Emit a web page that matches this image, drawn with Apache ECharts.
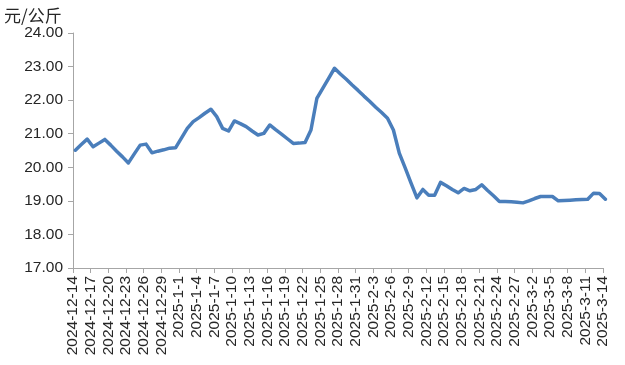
<!DOCTYPE html>
<html>
<head>
<meta charset="utf-8">
<script src="https://cdn.jsdelivr.net/npm/echarts@6/dist/echarts.min.js"></script>
<style>html,body{margin:0;padding:0;background:#fff}#c{width:625px;height:365px}</style>
</head>
<body>
<div id="c"></div>
<script>
const categories = [
'2024-12-14','2024-12-15','2024-12-16','2024-12-17','2024-12-18','2024-12-19','2024-12-20','2024-12-21','2024-12-22','2024-12-23',
'2024-12-24','2024-12-25','2024-12-26','2024-12-27','2024-12-28','2024-12-29','2024-12-30','2024-12-31','2025-1-1','2025-1-2',
'2025-1-3','2025-1-4','2025-1-5','2025-1-6','2025-1-7','2025-1-8','2025-1-9','2025-1-10','2025-1-11','2025-1-12',
'2025-1-13','2025-1-14','2025-1-15','2025-1-16','2025-1-17','2025-1-18','2025-1-19','2025-1-20','2025-1-21','2025-1-22',
'2025-1-23','2025-1-24','2025-1-25','2025-1-26','2025-1-27','2025-1-28','2025-1-29','2025-1-30','2025-1-31','2025-2-1',
'2025-2-2','2025-2-3','2025-2-4','2025-2-5','2025-2-6','2025-2-7','2025-2-8','2025-2-9','2025-2-10','2025-2-11',
'2025-2-12','2025-2-13','2025-2-14','2025-2-15','2025-2-16','2025-2-17','2025-2-18','2025-2-19','2025-2-20','2025-2-21',
'2025-2-22','2025-2-23','2025-2-24','2025-2-25','2025-2-26','2025-2-27','2025-2-28','2025-3-1','2025-3-2','2025-3-3',
'2025-3-4','2025-3-5','2025-3-6','2025-3-7','2025-3-8','2025-3-9','2025-3-10','2025-3-11','2025-3-12','2025-3-13',
'2025-3-14'
];
const prices = [
20.51,20.68,20.84,20.61,20.72,20.83,20.66,20.48,20.31,20.13,
20.40,20.66,20.69,20.43,20.48,20.52,20.57,20.58,20.87,21.16,
21.36,21.48,21.61,21.73,21.51,21.16,21.08,21.38,21.30,21.21,
21.08,20.96,21.01,21.26,21.12,20.99,20.85,20.71,20.72,20.74,
21.11,22.05,22.35,22.65,22.95,22.78,22.62,22.45,22.29,22.12,
21.96,21.79,21.63,21.46,21.11,20.42,19.98,19.53,19.09,19.34,
19.17,19.17,19.55,19.45,19.34,19.24,19.37,19.30,19.34,19.48,
19.31,19.15,18.98,18.98,18.97,18.96,18.94,19.00,19.07,19.13,
19.13,19.13,19.00,19.01,19.02,19.03,19.04,19.05,19.23,19.22,
19.05
];
const unitLabel = '元/公斤';
const yMin = 17, yMax = 24, yStep = 1;

const txt = '#262626', axisGrey = '#a6a6a6';
const chart = echarts.init(document.getElementById('c'));
chart.setOption({
  animation: false,
  grid: [
    {left: 73, right: 22, top: 33, bottom: 97, containLabel: false},
    {left: 75.4, right: 19.6, top: 33, bottom: 97, containLabel: false}
  ],
  graphic: [{type: 'text', left: 4, top: 7, style: {text: unitLabel, font: '17px "Noto Sans CJK SC"', fill: txt}}],
  xAxis: [{
    type: 'category', gridIndex: 0, data: categories, boundaryGap: false,
    axisLine: {lineStyle: {color: axisGrey, width: 1}},
    axisTick: {show: true, interval: 2, length: 5, lineStyle: {color: axisGrey}},
    axisLabel: {interval: 2, rotate: 90, margin: 8, fontSize: 15.5, fontFamily: 'Liberation Sans', color: txt}
  }, {
    type: 'category', gridIndex: 1, data: categories, boundaryGap: false, show: false
  }],
  yAxis: [{
    type: 'value', gridIndex: 0, min: yMin, max: yMax, interval: yStep,
    axisLine: {show: true, lineStyle: {color: axisGrey, width: 1}},
    axisTick: {show: true, length: 5, lineStyle: {color: axisGrey}},
    splitLine: {show: false},
    axisLabel: {margin: 10, fontSize: 15.5, fontFamily: 'Liberation Sans', color: txt, formatter: v => v.toFixed(2)}
  }, {
    type: 'value', gridIndex: 1, min: yMin, max: yMax, interval: yStep, show: false, splitLine: {show: false}
  }],
  series: [{
    type: 'line', xAxisIndex: 1, yAxisIndex: 1, data: prices, showSymbol: false, symbol: 'none',
    lineStyle: {color: '#4a7ebb', width: 3.5, cap: 'round', join: 'round'}
  }]
});
</script>
</body>
</html>
